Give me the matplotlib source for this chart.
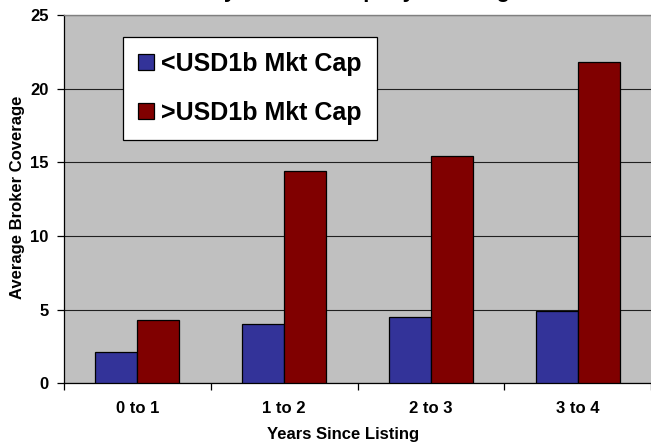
import numpy as np
import matplotlib
matplotlib.use("Agg")
import matplotlib.pyplot as plt

# --- values ---
CATEGORIES = ["0 to 1", "1 to 2", "2 to 3", "3 to 4"]
SMALL_CAP = [2.1, 4.0, 4.5, 4.9]        # <USD1b Mkt Cap
LARGE_CAP = [4.3, 14.4, 15.4, 21.8]     # >USD1b Mkt Cap
SERIES_LABELS = ["<USD1b Mkt Cap", ">USD1b Mkt Cap"]
Y_TICKS = [0, 5, 10, 15, 20, 25]

plt.rcParams["font.family"] = ["Liberation Sans", "DejaVu Sans"]
plt.rcParams["font.weight"] = "bold"

W, H = 651, 443
fig = plt.figure(figsize=(W / 100, H / 100), dpi=100)
fig.patch.set_facecolor("white")
# plot area in pixels: x 64..651, y 15..383
ax = fig.add_axes([64 / W, (H - 383.3) / H, (651 - 64) / W, (383.3 - 15) / H])
ax.set_facecolor("#C0C0C0")

x = np.arange(len(CATEGORIES))
bw = 0.286
ax.bar(x - bw / 2, SMALL_CAP, bw, color="#333399", edgecolor="black", lw=0.9,
       label=SERIES_LABELS[0], zorder=3)
ax.bar(x + bw / 2, LARGE_CAP, bw, color="#800000", edgecolor="black", lw=0.9,
       label=SERIES_LABELS[1], zorder=3)

ax.set_xlim(-0.5, len(CATEGORIES) - 0.5)
ax.set_ylim(0, 25)
ax.set_yticks(Y_TICKS)
ax.set_yticklabels([str(t) for t in Y_TICKS], fontsize=12, fontweight="bold")
ax.set_xticks(x)
ax.set_xticklabels(CATEGORIES, fontsize=12, fontweight="bold")
ax.set_xticks(np.arange(len(CATEGORIES) + 1) - 0.5, minor=True)
ax.tick_params(axis="x", which="major", length=0, pad=13)
ax.tick_params(axis="x", which="minor", length=5, width=0.9, direction="out", color="black")
ax.tick_params(axis="y", length=5, width=0.9, direction="out", pad=6, color="black")

ax.yaxis.grid(True, color="#202020", lw=0.8)
ax.set_axisbelow(True)
ax.spines["right"].set_visible(False)
ax.spines["top"].set_color("#808080")
ax.spines["top"].set_linewidth(1.0)
for s in ("left", "bottom"):
    ax.spines[s].set_color("black")
    ax.spines[s].set_linewidth(0.9)

# title sits mostly above the cropped top edge, only descenders show
fig.text(347 / W, 1 + 2.5 / H, "Newly Listed Company Coverage", ha="center", va="baseline",
         fontsize=16, fontweight="bold")
fig.text(343 / W, 1 - 435 / H, "Years Since Listing", ha="center", va="center",
         fontsize=12, fontweight="bold")
fig.text(18 / W, 1 - 197.5 / H, "Average Broker Coverage", ha="center", va="center",
         rotation=90, fontsize=12, fontweight="bold")

leg = ax.legend(loc="upper left", bbox_to_anchor=(122.7 / W, 1 - 36.7 / H),
                bbox_transform=fig.transFigure, borderaxespad=0,
                prop=dict(size=18, weight="bold"), fancybox=False, framealpha=1,
                edgecolor="black", handlelength=0.65, handleheight=0.65,
                handletextpad=0.3, labelspacing=1.0, borderpad=0.6)
leg.get_frame().set_linewidth(0.9)
leg.get_frame().set_facecolor("white")

fig.savefig("out.png", dpi=100, facecolor=fig.get_facecolor())
